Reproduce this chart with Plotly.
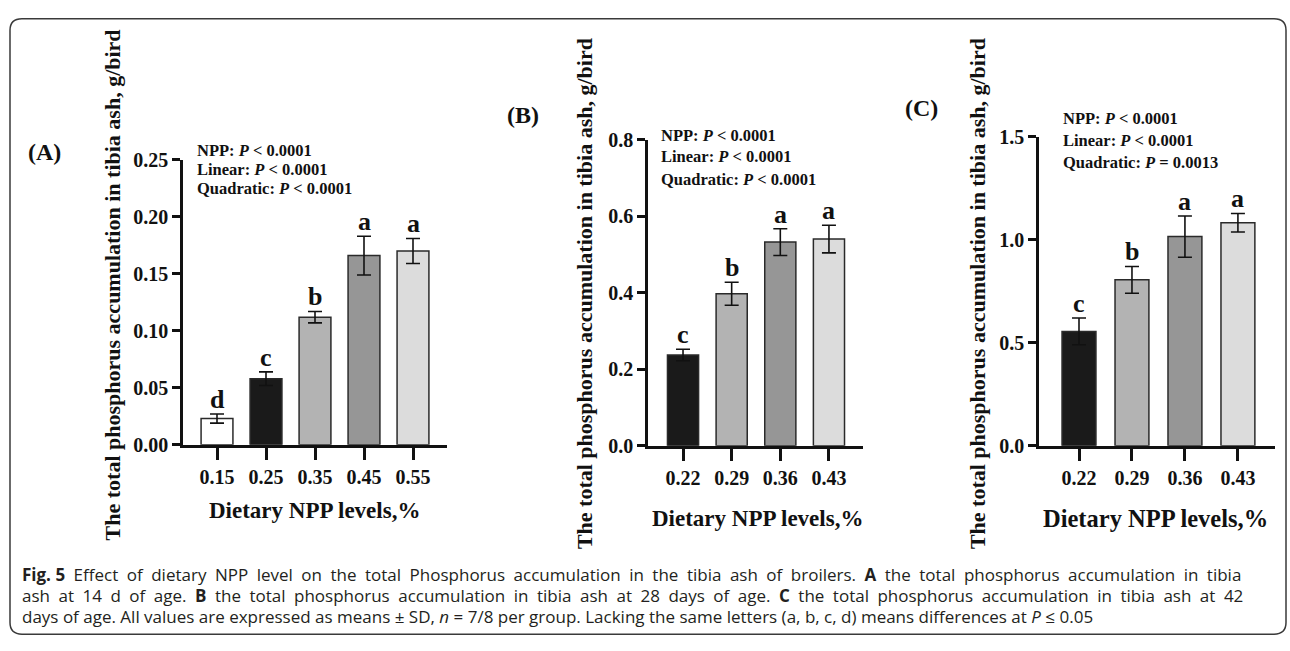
import plotly.graph_objects as go

W, H = 1290, 651

# ---------------- data ----------------
a_levels = ["0.15", "0.25", "0.35", "0.45", "0.55"]
a_means = [0.023, 0.058, 0.112, 0.166, 0.170]
a_sd = [0.004, 0.006, 0.005, 0.017, 0.011]
a_letters = ["d", "c", "b", "a", "a"]

b_levels = ["0.22", "0.29", "0.36", "0.43"]
b_means = [0.237, 0.397, 0.532, 0.540]
b_sd = [0.015, 0.030, 0.035, 0.036]
b_letters = ["c", "b", "a", "a"]

c_levels = ["0.22", "0.29", "0.36", "0.43"]
c_means = [0.555, 0.805, 1.015, 1.082]
c_sd = [0.065, 0.065, 0.100, 0.045]
c_letters = ["c", "b", "a", "a"]

a_stats = ["NPP: <i>P</i> < 0.0001", "Linear: <i>P</i> < 0.0001", "Quadratic: <i>P</i> < 0.0001"]
b_stats = ["NPP: <i>P</i> < 0.0001", "Linear: <i>P</i> < 0.0001", "Quadratic: <i>P</i> < 0.0001"]
c_stats = ["NPP: <i>P</i> < 0.0001", "Linear: <i>P</i> < 0.0001", "Quadratic: <i>P</i> = 0.0013"]

a_colors = ["#ffffff", "#1a1a1a", "#b3b3b3", "#969696", "#dcdcdc"]
bc_colors = ["#1a1a1a", "#b3b3b3", "#969696", "#dcdcdc"]

y_title = "The total phosphorus accumulation in tibia ash, g/bird"
x_title = "Dietary NPP levels,%"

caption_lines = [
    "<b>Fig. 5</b> Effect of dietary NPP level on the total Phosphorus accumulation in the tibia ash of broilers. <b>A</b> the total phosphorus accumulation in tibia",
    "ash at 14 d of age. <b>B</b> the total phosphorus accumulation in tibia ash at 28 days of age. <b>C</b> the total phosphorus accumulation in tibia ash at 42",
    "days of age. All values are expressed as means ± SD, <i>n</i> = 7/8 per group. Lacking the same letters (a, b, c, d) means differences at <i>P</i> ≤ 0.05",
]
caption_justified = [True, True, False]

SERIF = "Liberation Serif"
INK = "#111111"


def px_x(p):
    return p / W


def px_y(p):
    return 1 - p / H


fig = go.Figure()

panels = [
    dict(lv=a_levels, m=a_means, sd=a_sd, let=a_letters, col=a_colors, ax="",
         xd=(183, 447), yd=(154, 449), xr=[-0.694, 4.694], yr=[0, 0.25], dt=0.05, fmt=".2f", bw=0.65,
         stats=a_stats, sx=195, sy=[144, 164, 184], lab="(A)", lx=44, ly=146,
         ytx=112, yty=284, xtx=314, xty=517, xts=23),
    dict(lv=b_levels, m=b_means, sd=b_sd, let=b_letters, col=bc_colors, ax="2",
         xd=(648, 863), yd=(133, 450), xr=[-0.72, 3.70], yr=[0, 0.8], dt=0.2, fmt=".1f", bw=0.64,
         stats=b_stats, sx=659, sy=[129, 151, 174], lab="(B)", lx=523, ly=108,
         ytx=584, yty=293, xtx=757, xty=525, xts=23),
    dict(lv=c_levels, m=c_means, sd=c_sd, let=c_letters, col=bc_colors, ax="3",
         xd=(1039, 1275), yd=(130, 450), xr=[-0.755, 3.70], yr=[0, 1.5], dt=0.5, fmt=".1f", bw=0.64,
         stats=c_stats, sx=1061, sy=[111, 134, 157], lab="(C)", lx=921, ly=100,
         ytx=977, yty=293, xtx=1155, xty=525, xts=24.5),
]

annotations = []
layout_axes = {}
for p in panels:
    xa = "x" + p["ax"]
    ya = "y" + p["ax"]
    fig.add_trace(go.Bar(
        x=p["lv"], y=p["m"], width=p["bw"],
        marker=dict(color=p["col"], line=dict(color="#2a2a2a", width=1.5)),
        error_y=dict(type="data", array=p["sd"], visible=True, color=INK,
                     thickness=1.6, width=7),
        xaxis=xa, yaxis=ya, showlegend=False,
    ))
    layout_axes["xaxis" + p["ax"]] = dict(
        domain=[px_x(p["xd"][0]), px_x(p["xd"][1])], anchor=ya,
        type="category", range=p["xr"], showline=True, linecolor=INK, linewidth=2.6,
        ticks="outside", ticklen=12, tickwidth=2.6, tickcolor=INK,
        tickfont=dict(family=SERIF, size=20, color=INK, weight=700),
        showgrid=False, zeroline=False, fixedrange=True,
    )
    layout_axes["yaxis" + p["ax"]] = dict(
        domain=[px_y(p["yd"][1]), px_y(p["yd"][0])], anchor=xa,
        range=p["yr"], dtick=p["dt"], tick0=0, tickformat=p["fmt"],
        showline=True, linecolor=INK, linewidth=2.6,
        ticks="outside", ticklen=8, tickwidth=2.6, tickcolor=INK,
        tickfont=dict(family=SERIF, size=20, color=INK, weight=700),
        showgrid=False, zeroline=False, fixedrange=True,
    )
    # significance letters (x given as category index)
    for i, (m, s, l) in enumerate(zip(p["m"], p["sd"], p["let"])):
        annotations.append(dict(
            x=i, y=m + s, xref=xa, yref=ya, text=l, showarrow=False,
            yanchor="bottom", yshift=-2,
            font=dict(family=SERIF, size=26, color=INK, weight=700),
        ))
    for t, sy in zip(p["stats"], p["sy"]):
        annotations.append(dict(
            x=px_x(p["sx"]), y=px_y(sy), xref="paper", yref="paper", text=t,
            showarrow=False, xanchor="left", yanchor="middle",
            font=dict(family=SERIF, size=16.5, color=INK, weight=700),
        ))
    annotations.append(dict(
        x=px_x(p["lx"]), y=px_y(p["ly"]), xref="paper", yref="paper", text=p["lab"],
        showarrow=False, xanchor="center", yanchor="middle",
        font=dict(family=SERIF, size=24, color=INK, weight=700),
    ))
    annotations.append(dict(
        x=px_x(p["ytx"]), y=px_y(p["yty"]), xref="paper", yref="paper", text=y_title,
        showarrow=False, xanchor="center", yanchor="middle", textangle=-90,
        font=dict(family=SERIF, size=22, color=INK, weight=700),
    ))
    annotations.append(dict(
        x=px_x(p["xtx"]), y=px_y(p["xty"]), xref="paper", yref="paper", text=x_title,
        showarrow=False, xanchor="center", yanchor="middle",
        font=dict(family=SERIF, size=p["xts"], color=INK, weight=700),
    ))

for line, just, cy in zip(caption_lines, caption_justified, [583, 605, 627]):
    txt = line.replace(" ", "\u2002") if just else line
    txt = txt.replace("<b>\u2002", "<b> ").replace("\u2002</b>", " </b>")
    txt = txt.replace("Fig.\u20025", "Fig. 5")
    annotations.append(dict(
        x=px_x(20), y=px_y(cy), xref="paper", yref="paper", text=txt,
        showarrow=False, xanchor="left", yanchor="middle",
        font=dict(family="Open Sans", size=17, color="#231f20"),
    ))

# rounded outer frame (pixel path converted to paper coordinates)
x0, y0, x1, y1, r = 10, 8, 1286, 645, 12
pts = [("M", x0 + r, y0), ("L", x1 - r, y0), ("Q", x1, y0, x1, y0 + r), ("L", x1, y1 - r),
       ("Q", x1, y1, x1 - r, y1), ("L", x0 + r, y1), ("Q", x0, y1, x0, y1 - r),
       ("L", x0, y0 + r), ("Q", x0, y0, x0 + r, y0)]
segs = []
for s in pts:
    cmd, coords = s[0], s[1:]
    pairs = [f"{coords[k]/W:.5f},{1-coords[k+1]/H:.5f}" for k in range(0, len(coords), 2)]
    segs.append(cmd + " " + " ".join(pairs))
path = " ".join(segs) + " Z"

fig.update_layout(
    width=W, height=H, margin=dict(l=0, r=0, t=0, b=0),
    paper_bgcolor="white", plot_bgcolor="white",
    annotations=annotations,
    shapes=[dict(type="path", xref="paper", yref="paper", path=path,
                 line=dict(color="#3a3a3a", width=1.5), fillcolor="rgba(0,0,0,0)", layer="below")],
    **layout_axes,
)

fig.write_html("out.html", config={"displayModeBar": False})
